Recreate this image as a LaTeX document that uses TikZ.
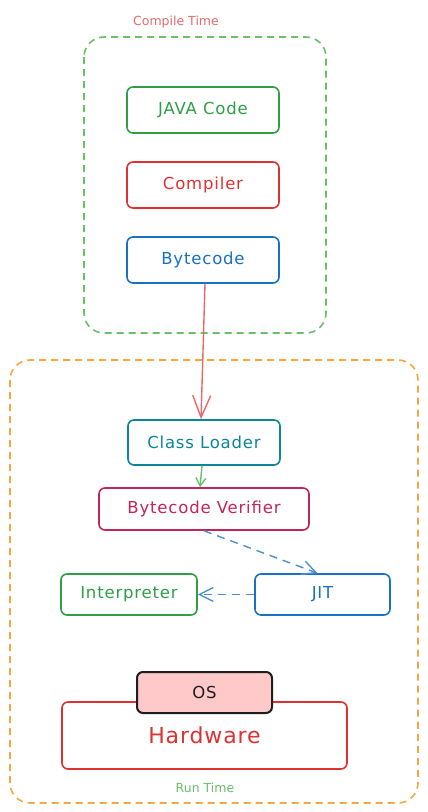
\documentclass[tikz,border=0pt]{standalone}
\usepackage{fontspec}
\setmainfont{DejaVu Sans}
\usetikzlibrary{arrows.meta}
\definecolor{cgreen}{HTML}{2F9E44}
\definecolor{cred}{HTML}{E03131}
\definecolor{cblue}{HTML}{1971C2}
\definecolor{cteal}{HTML}{0C8599}
\definecolor{cpink}{HTML}{C2255C}
\definecolor{lgreen}{HTML}{6ABF69}
\definecolor{lred}{HTML}{E8696B}
\definecolor{lorange}{HTML}{F5A742}
\definecolor{lblue}{HTML}{4A90D9}
\definecolor{osfill}{HTML}{FFC9C9}
\definecolor{osline}{HTML}{1E1E1E}
\newfontfamily\boxfont[LetterSpace=5]{DejaVu Sans}
\newfontfamily\hwfont[LetterSpace=4]{DejaVu Sans}
\tikzset{
  boxnode/.style={draw, rounded corners=6pt, line width=1.6pt, align=center, font=\boxfont\fontsize{16.5}{18}\selectfont, inner sep=0pt},
  grouprect/.style={draw, dashed, dash pattern=on 7pt off 5pt, line width=1.6pt, rounded corners=20pt},
  grouplabel/.style={font=\fontsize{12.5}{14}\selectfont},
  barb/.style={line width=1.4pt},
}
\begin{document}
\begin{tikzpicture}[x=1pt,y=-1pt]
\useasboundingbox (0,0) rectangle (428,812);
% groups
\draw[grouprect, lgreen] (84,37) rectangle (326,333);
\node[grouplabel, text=lred] (ct) at (176,22) {Compile Time};
\draw[grouprect, lorange] (10,360) rectangle (418,803);
\node[grouplabel, text=lgreen] (rt) at (205,788) {Run Time};
% compile boxes
\node[boxnode, draw=cgreen, text=cgreen, minimum width=152pt, minimum height=46pt] (java) at (203,110) {JAVA Code};
\node[boxnode, draw=cred, text=cred, minimum width=152pt, minimum height=46pt] (comp) at (203,185) {Compiler};
\node[boxnode, draw=cblue, text=cblue, minimum width=152pt, minimum height=46pt] (byte) at (203,260) {Bytecode};
% run boxes
\node[boxnode, draw=cteal, text=cteal, minimum width=152pt, minimum height=45pt] (cl) at (204,442.5) {Class Loader};
\node[boxnode, draw=cpink, text=cpink, minimum width=210pt, minimum height=42pt] (bv) at (204,509) {Bytecode Verifier};
\node[boxnode, draw=cgreen, text=cgreen, minimum width=136pt, minimum height=41pt] (interp) at (129,594.5) {Interpreter};
\node[boxnode, draw=cblue, text=cblue, minimum width=135pt, minimum height=41pt] (jit) at (322.5,594.5) {JIT};
\node[boxnode, draw=cred, text=cred, minimum width=285pt, minimum height=67pt, font=\hwfont\fontsize{22}{24}\selectfont] (hw) at (204.5,735.5) {\raisebox{-4pt}{Hardware}};
\node[boxnode, draw=osline, fill=osfill, text=osline, line width=2pt, minimum width=135pt, minimum height=41pt] (os) at (204.5,692.5) {OS};
% connectors
\draw[barb, lred, -{Straight Barb[length=22pt,width=18pt]}] ([xshift=2pt]byte.south) -- ([xshift=-3pt]cl.north);
\draw[barb, lgreen, -{Straight Barb[length=8pt,width=10pt]}] ([xshift=-2pt]cl.south) -- ([xshift=-4pt]bv.north);
\draw[barb, lblue, dashed, dash pattern=on 8pt off 6pt, -{Straight Barb[length=14pt,width=14pt]}] (bv.south) -- ([xshift=-5pt]jit.north);
\draw[barb, lblue, dashed, dash pattern=on 8pt off 6pt, -{Straight Barb[length=14pt,width=14pt]}] (jit.west) -- (interp.east);
\end{tikzpicture}
\end{document}
